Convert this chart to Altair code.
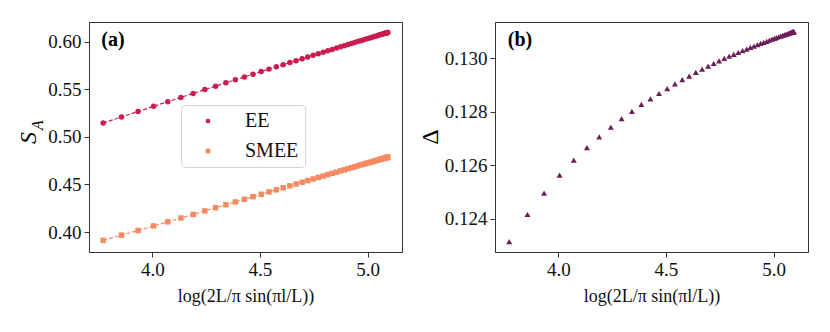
import altair as alt
import pandas as pd

# x = log(2L/pi * sin(pi l / L)) values
x_vals = [3.772, 3.857, 3.934, 4.006, 4.072, 4.133, 4.190, 4.244, 4.294, 4.342,
          4.386, 4.428, 4.468, 4.506, 4.542, 4.576, 4.608, 4.639, 4.668, 4.696,
          4.722, 4.747, 4.771, 4.794, 4.815, 4.836, 4.856, 4.875, 4.892, 4.909,
          4.925, 4.940, 4.954, 4.968, 4.981, 4.993, 5.004, 5.014, 5.024, 5.033,
          5.042, 5.050, 5.057, 5.063, 5.069, 5.074, 5.079, 5.083, 5.086, 5.089,
          5.091, 5.092, 5.093, 5.094]

ee = [0.5144, 0.5209, 0.5266, 0.5320, 0.5369, 0.5414, 0.5456, 0.5496, 0.5532, 0.5567,
      0.5599, 0.5629, 0.5658, 0.5685, 0.5711, 0.5735, 0.5758, 0.5780, 0.5800, 0.5820,
      0.5838, 0.5856, 0.5873, 0.5889, 0.5904, 0.5918, 0.5932, 0.5945, 0.5957, 0.5969,
      0.5980, 0.5990, 0.6000, 0.6010, 0.6019, 0.6027, 0.6034, 0.6041, 0.6048, 0.6054,
      0.6060, 0.6066, 0.6071, 0.6075, 0.6079, 0.6082, 0.6086, 0.6088, 0.6090, 0.6092,
      0.6093, 0.6094, 0.6095, 0.6096]

smee = [0.3913, 0.3967, 0.4016, 0.4064, 0.4107, 0.4147, 0.4185, 0.4222, 0.4255, 0.4287,
        0.4316, 0.4344, 0.4371, 0.4396, 0.4421, 0.4443, 0.4465, 0.4485, 0.4504, 0.4523,
        0.4540, 0.4557, 0.4573, 0.4588, 0.4603, 0.4616, 0.4629, 0.4642, 0.4653, 0.4665,
        0.4675, 0.4685, 0.4694, 0.4704, 0.4712, 0.4720, 0.4727, 0.4733, 0.4740, 0.4746,
        0.4752, 0.4757, 0.4762, 0.4766, 0.4770, 0.4773, 0.4776, 0.4778, 0.4780, 0.4782,
        0.4783, 0.4784, 0.4785, 0.4786]

delta = [0.12315, 0.12416, 0.12496, 0.12563, 0.12619, 0.12666, 0.12706, 0.12742, 0.12774, 0.12801,
         0.12827, 0.12848, 0.12868, 0.12886, 0.12904, 0.12920, 0.12933, 0.12947, 0.12959, 0.12970,
         0.12980, 0.12990, 0.12999, 0.13007, 0.13014, 0.13021, 0.13028, 0.13034, 0.13040, 0.13045,
         0.13050, 0.13055, 0.13059, 0.13063, 0.13067, 0.13071, 0.13074, 0.13077, 0.13080, 0.13082,
         0.13085, 0.13087, 0.13089, 0.13091, 0.13092, 0.13094, 0.13095, 0.13096, 0.13097, 0.13098,
         0.13098, 0.13099, 0.13099, 0.13099]

series_names = ["EE", "SMEE"]
series_colors = ["#CB1B4F", "#F58A62"]
delta_color = "#6B1F56"
x_ticks = [4.0, 4.5, 5.0]
ya_ticks = [0.40, 0.45, 0.50, 0.55, 0.60]
yb_ticks = [0.124, 0.126, 0.128, 0.130]
x_title = "log(2L/π sin(πl/L))"

FONT = "Liberation Serif"
W, H = 313, 230
x_dom = [3.706, 5.160]

n = len(x_vals)
dfa = pd.DataFrame({
    "x": x_vals + x_vals,
    "y": ee + smee,
    "series": [series_names[0]] * n + [series_names[1]] * n,
})
dfb = pd.DataFrame({"x": x_vals, "d": delta})

xenc = alt.X("x:Q", scale=alt.Scale(domain=x_dom, nice=False, zero=False),
             axis=alt.Axis(values=x_ticks, format=".1f", title=x_title,
                           titleY=44, titleBaseline="middle",
                           labelFont=FONT, titleFont=FONT))

cscale = alt.Scale(domain=series_names, range=series_colors)
leg = alt.Legend(orient="none", legendX=92, legendY=83, title=None,
                 padding=6, symbolOffset=11, labelOffset=27, labelFontSize=20,
                 labelFont=FONT, labelColor="#111", rowPadding=10,
                 strokeColor="#d4d4d4", fillColor="white", cornerRadius=4,
                 symbolSize=22)

ya = alt.Y("y:Q", scale=alt.Scale(domain=[0.379, 0.6206], nice=False, zero=False),
           axis=alt.Axis(values=ya_ticks, format=".2f", title=None, labelFont=FONT))

line_layers = []
for name, col in zip(series_names, series_colors):
    line_layers.append(
        alt.Chart(dfa).transform_filter(alt.datum.series == name)
        .mark_line(strokeDash=[4, 2], strokeWidth=1.2, color=col)
        .encode(x=xenc, y=ya)
    )

pts_a = alt.Chart(dfa).mark_point(filled=True, size=30, opacity=1).encode(
    x=xenc, y=ya,
    color=alt.Color("series:N", scale=cscale, legend=leg),
    shape=alt.Shape("series:N", scale=alt.Scale(domain=series_names, range=["circle", "square"]), legend=leg),
)

def txt(t, x, y, size, angle=0, style="normal", weight="normal"):
    return alt.Chart(pd.DataFrame({"t": [t]})).mark_text(
        font=FONT, fontSize=size, angle=angle, fontStyle=style, fontWeight=weight,
        align="center", baseline="middle", color="black"
    ).encode(x=alt.value(x), y=alt.value(y), text="t:N")

panel_a = alt.layer(
    *line_layers, pts_a,
    txt("S", -60, 116, 24, angle=270, style="italic"),
    txt("A", -51, 103, 16, angle=270, style="italic"),
    txt("(a)", 24, 18, 20, weight="bold"),
).properties(width=W, height=H)

pts_b = alt.Chart(dfb).mark_point(shape="triangle-up", filled=True, size=36, opacity=1,
                                  color=delta_color).encode(
    x=xenc,
    y=alt.Y("d:Q", scale=alt.Scale(domain=[0.12276, 0.13135], nice=False, zero=False),
            axis=alt.Axis(values=yb_ticks, format=".3f", title=None, labelFont=FONT)),
)

panel_b = alt.layer(
    pts_b,
    txt("Δ", -64, 115, 24, angle=270),
    txt("(b)", 25, 18, 20, weight="bold"),
).properties(width=W, height=H)

chart = alt.hconcat(panel_a, panel_b, spacing=15).properties(
    padding={"left": 8, "top": 13, "right": 5, "bottom": 5}
).configure(
    font=FONT
).configure_view(
    stroke="#333", strokeWidth=1
).configure_axis(
    grid=False, labelFont=FONT, labelFontSize=19, labelColor="#111",
    titleFont=FONT, titleFontSize=18, titleFontWeight="normal", titleColor="#111",
    tickColor="#333", domainColor="#333", tickSize=5, labelPadding=3,
).configure_legend(
    labelFont=FONT
)

chart.save("out.html", embed_options={"renderer": "svg", "actions": False})
